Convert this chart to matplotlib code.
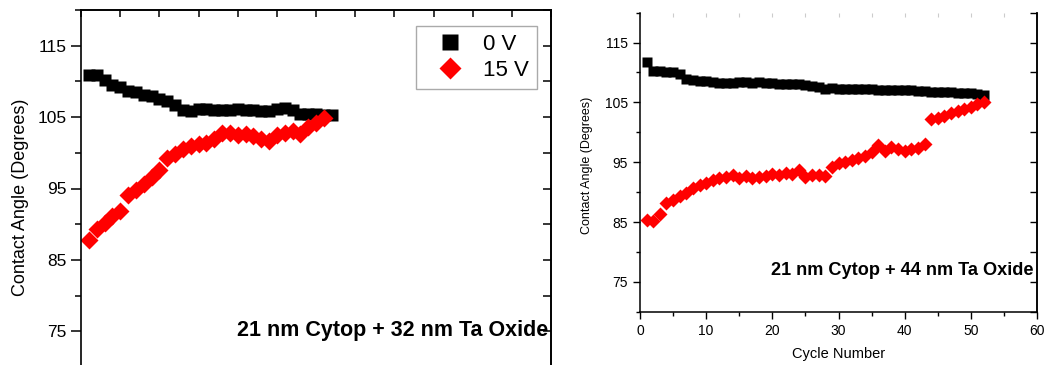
import numpy as np
import matplotlib
matplotlib.use("Agg")
import matplotlib.pyplot as plt
from matplotlib.ticker import MultipleLocator

plt.rcParams['font.family'] = ['Liberation Sans', 'DejaVu Sans']

# left panel: 21 nm Cytop + 32 nm Ta Oxide
cyc_a0 = np.arange(1, 33)
ang_a0 = [110.9, 110.9, 110.2, 109.5, 109.2, 108.7, 108.5, 108.1, 107.9, 107.5,
          107.2, 106.7, 106.0, 105.9, 106.2, 106.1, 106.0, 106.0, 106.0, 106.1,
          106.0, 106.0, 105.9, 105.8, 106.1, 106.3, 106.0, 105.4, 105.4, 105.4,
          105.3, 105.3]
cyc_a15 = np.arange(1, 32)
ang_a15 = [87.8, 89.3, 90.2, 91.2, 91.8, 94.1, 94.8, 95.6, 96.6, 97.6,
           99.3, 99.9, 100.5, 100.9, 101.2, 101.4, 102.0, 102.8, 102.8, 102.5,
           102.7, 102.3, 101.9, 101.7, 102.5, 102.8, 103.0, 102.6, 103.6, 104.2,
           104.9]

# right panel: 21 nm Cytop + 44 nm Ta Oxide
cyc_b = np.arange(1, 53)
ang_b0 = [111.8, 110.3, 110.2, 110.1, 110.0, 109.7, 108.9, 108.8, 108.6, 108.5,
          108.4, 108.3, 108.3, 108.3, 108.4, 108.4, 108.3, 108.4, 108.3, 108.3,
          108.1, 108.0, 108.0, 108.0, 107.9, 107.7, 107.5, 107.3, 107.4, 107.3,
          107.3, 107.2, 107.3, 107.2, 107.3, 107.1, 107.0, 107.1, 107.1, 107.0,
          107.0, 106.9, 106.9, 106.8, 106.7, 106.7, 106.7, 106.6, 106.6, 106.5,
          106.4, 106.2]
ang_b15 = [85.4, 85.2, 86.4, 88.2, 88.7, 89.3, 89.9, 90.7, 91.2, 91.5,
           92.1, 92.4, 92.5, 92.9, 92.4, 92.7, 92.4, 92.5, 92.7, 93.1,
           92.9, 93.2, 93.1, 93.7, 92.5, 92.9, 92.9, 92.7, 94.2, 94.9,
           95.1, 95.4, 95.7, 96.1, 96.7, 97.9, 96.8, 97.6, 97.2, 96.8,
           97.2, 97.4, 98.1, 102.2, 102.4, 102.8, 103.3, 103.5, 103.9, 104.3,
           104.7, 105.0]

yticks = [75, 85, 95, 105, 115]
labels = ['0 V', '15 V']

fig = plt.figure(figsize=(10.46, 3.65), dpi=100)

# ---- left panel (bottom is cut off in the source picture)
ax1 = fig.add_axes([81/1046, -2/365, 470/1046, 357/365])
ax1.plot(cyc_a0, ang_a0, 's', color='black', ms=9, mec='none', label=labels[0])
ax1.plot(cyc_a15, ang_a15, 'D', color='red', ms=9, mec='none', label=labels[1])
ax1.set_xlim(0, 60)
ax1.set_ylim(70, 120)
ax1.set_yticks(yticks)
ax1.yaxis.set_minor_locator(MultipleLocator(5))
ax1.xaxis.set_major_locator(MultipleLocator(5))
ax1.tick_params(axis='y', which='major', direction='out', length=7, width=1.1, labelsize=12.5)
ax1.tick_params(axis='y', which='minor', direction='out', length=4.5, width=1.1)
ax1.tick_params(axis='x', bottom=False, labelbottom=False)
ax1.set_ylabel('Contact Angle (Degrees)', fontsize=13)
ax1.yaxis.set_label_coords(-0.111, 0.476)
top1 = ax1.secondary_xaxis('top')
top1.set_xticks(np.arange(0, 61, 5))
top1.tick_params(direction='in', length=5, width=1.1, labeltop=False)
right1 = ax1.secondary_yaxis('right')
right1.set_yticks(np.arange(70, 121, 5))
right1.tick_params(direction='in', length=6, width=1.1, labelright=False)
for a in (ax1, top1, right1):
    for s in a.spines.values():
        s.set_linewidth(1.2)
ax1.text(0.994, 0.101, '21 nm Cytop + 32 nm Ta Oxide', transform=ax1.transAxes,
         ha='right', va='center', fontsize=15.5, fontweight='bold')
leg = ax1.legend(loc='upper right', bbox_to_anchor=(0.970, 0.955), fontsize=16,
                 frameon=True, fancybox=False, edgecolor='#aaaaaa', framealpha=1,
                 handlelength=2.3, handletextpad=0.35, labelspacing=0.2,
                 borderpad=0.36, borderaxespad=0, markerscale=1.3)

# ---- right panel
ax2 = fig.add_axes([640/1046, 53.3/365, 397/1046, 299/365])
ax2.plot(cyc_b, ang_b0, 's', color='black', ms=7, mec='none')
ax2.plot(cyc_b, ang_b15, 'D', color='red', ms=7, mec='none')
ax2.set_xlim(0, 60)
ax2.set_ylim(70, 120)
ax2.set_yticks(yticks)
ax2.yaxis.set_minor_locator(MultipleLocator(5))
ax2.xaxis.set_major_locator(MultipleLocator(10))
ax2.xaxis.set_minor_locator(MultipleLocator(5))
ax2.tick_params(which='major', direction='out', length=5, width=1.0, labelsize=10)
ax2.tick_params(which='minor', direction='out', length=3, width=1.0)
ax2.set_ylabel('Contact Angle (Degrees)', fontsize=9)
ax2.yaxis.set_label_coords(-0.118, 0.489)
ax2.set_xlabel('Cycle Number', fontsize=10.5)
ax2.xaxis.set_label_coords(0.499, -0.118)
ax2.spines['top'].set_visible(False)
top2 = ax2.secondary_xaxis('top')
top2.set_xticks(np.arange(0, 61, 5))
top2.tick_params(direction='in', length=3, width=0.8, color='#cccccc', labeltop=False)
top2.spines['top'].set_visible(False)
right2 = ax2.secondary_yaxis('right')
right2.set_yticks(np.arange(70, 121, 5))
right2.tick_params(direction='in', length=5, width=1.0, labelright=False)
for a in (ax2, right2):
    for s in a.spines.values():
        s.set_linewidth(1.1)
ax2.text(0.99, 0.139, '21 nm Cytop + 44 nm Ta Oxide', transform=ax2.transAxes,
         ha='right', va='center', fontsize=13.1, fontweight='bold')

fig.savefig('out.png', dpi=100)
